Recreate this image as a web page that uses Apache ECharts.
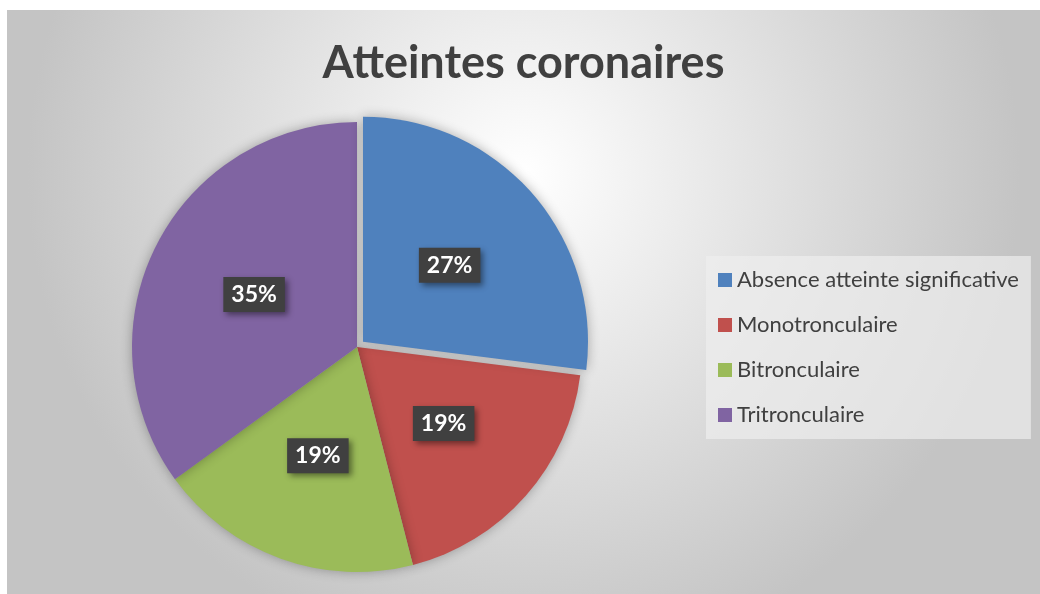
<!DOCTYPE html>
<html>
<head>
<meta charset="utf-8">
<script src="https://cdn.jsdelivr.net/npm/echarts@6/dist/echarts.min.js"></script>
<style>
  html, body { margin: 0; padding: 0; background: #fff; }
  #chart { position: absolute; left: 7px; top: 10px; width: 1033px; height: 584px; }
</style>
</head>
<body>
<div id="chart"></div>
<script>
// valeurs du graphique
const categories = ["Absence atteinte significative", "Monotronculaire", "Bitronculaire", "Tritronculaire"];
const values = [27, 19, 19, 35];
const colors = ["#4f81bd", "#c0504d", "#9bbb59", "#8064a2"];

const chart = echarts.init(document.getElementById("chart"), null, { renderer: "canvas" });

const option = {
  backgroundColor: {
    type: "radial", x: 0.5, y: 0.28, r: 0.85,
    colorStops: [
      { offset: 0, color: "#ffffff" },
      { offset: 1, color: "#c4c4c4" }
    ]
  },
  title: {
    text: "Atteintes coronaires",
    left: "center",
    top: 26,
    textStyle: { fontFamily: "Lato", fontWeight: "bold", fontSize: 45, color: "#404040" }
  },
  legend: {
    orient: "vertical",
    left: 699,
    top: 246,
    width: 329,
    padding: [13, 12, 13, 12],
    backgroundColor: "rgba(238,238,238,0.7)",
    itemWidth: 14,
    itemHeight: 14,
    itemGap: 23,
    icon: "rect",
    textStyle: { fontFamily: "Lato", fontSize: 22, color: "#404040" },
    data: categories
  },
  series: [
    {
      type: "pie",
      center: [350, 337],
      radius: 225,
      startAngle: 90,
      clockwise: true,
      selectedMode: "single",
      selectedOffset: 8,
      avoidLabelOverlap: false,
      itemStyle: { shadowBlur: 12, shadowColor: "rgba(0,0,0,0.3)" },
      label: {
        show: true,
        position: "inside",
        formatter: "{d}%",
        fontFamily: "Lato",
        fontWeight: "bold",
        fontSize: 23,
        color: "#ffffff",
        backgroundColor: "#404040",
        padding: [7, 8, 5, 8],
        shadowBlur: 6,
        shadowOffsetX: 3,
        shadowOffsetY: 3,
        shadowColor: "rgba(0,0,0,0.45)"
      },
      labelLine: { show: false },
      data: categories.map((name, i) => ({
        name: name,
        value: values[i],
        selected: i === 0,
        itemStyle: { color: colors[i] }
      }))
    }
  ]
};

chart.setOption(option);
</script>
</body>
</html>
